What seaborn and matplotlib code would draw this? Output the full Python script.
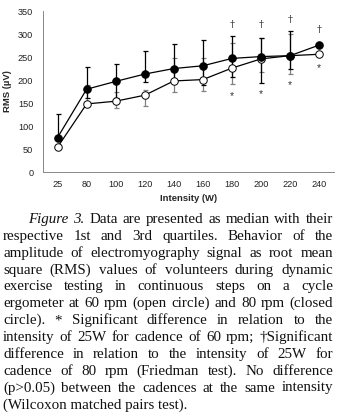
# RMS amplitude vs. intensity at two cadences, with figure caption below
import matplotlib
matplotlib.use('Agg')
import matplotlib.pyplot as plt
import numpy as np
import pandas as pd
import seaborn as sns

# Data (medians with 1st/3rd quartiles)
intensity = ['25', '80', '100', '120', '140', '160', '180', '200', '220', '240']
rpm80_med = [75, 180, 197, 213, 225, 231, 247, 251, 253, 276]
rpm80_q1 = [75, 160, 160, 196, 200, 190, 207, 194, 223, 276]
rpm80_q3 = [126, 229, 235, 263, 278, 287, 296, 292, 307, 276]
rpm60_med = [54, 148, 154, 167, 198, 201, 226, 246, 253, 256]
rpm60_q1 = [54, 148, 140, 143, 173, 177, 191, 218, 214, 256]
rpm60_q3 = [54, 190, 175, 178, 248, 248, 280, 291, 300, 256]

# significance marks
dagger_x = ['180', '200', '220', '240']
dagger_y = [320, 320, 332, 309]
star_x = ['180', '200', '220', '240']
star_y = [165, 170, 189, 225]

caption_lines = [
    'Data are presented as median with their',
    'respective 1st and 3rd quartiles. Behavior of the',
    'amplitude of electromyography signal as root mean',
    'square (RMS) values of volunteers during dynamic',
    'exercise testing in continuous steps on a cycle',
    'ergometer at 60 rpm (open circle) and 80 rpm (closed',
    'circle). * Significant difference in relation to the',
    'intensity of 25W for cadence of 60 rpm; \u2020Significant',
    'difference in relation to the intensity of 25W for',
    'cadence of 80 rpm (Friedman test). No difference',
    '(p>0.05) between the cadences at the same intensity',
    '(Wilcoxon matched pairs test).',
]

sns.set_style('white')
plt.rcParams['font.family'] = ['Liberation Sans', 'DejaVu Sans']

df = pd.DataFrame({
    'intensity': intensity * 2,
    'rms': rpm60_med + rpm80_med,
    'cadence': ['60 rpm'] * len(intensity) + ['80 rpm'] * len(intensity),
})

fig = plt.figure(figsize=(3.4, 4.17), dpi=100)
ax = fig.add_axes([0.1265, 0.5875, 0.855, 0.386])

# error bars first so markers sit on top
ax.errorbar(intensity, rpm60_med,
            yerr=[np.subtract(rpm60_med, rpm60_q1), np.subtract(rpm60_q3, rpm60_med)],
            fmt='none', ecolor='#808080', elinewidth=0.9, capsize=1.8, capthick=0.9, zorder=1)
ax.errorbar(intensity, rpm80_med,
            yerr=[np.subtract(rpm80_med, rpm80_q1), np.subtract(rpm80_q3, rpm80_med)],
            fmt='none', ecolor='black', elinewidth=0.9, capsize=1.8, capthick=0.9, zorder=2)

sns.lineplot(data=df[df.cadence == '60 rpm'], x='intensity', y='rms', sort=False,
             color='black', lw=0.9, marker='o', markersize=5.4,
             markerfacecolor='white', markeredgecolor='black', markeredgewidth=0.7,
             ax=ax, zorder=3)
sns.lineplot(data=df[df.cadence == '80 rpm'], x='intensity', y='rms', sort=False,
             color='black', lw=0.9, marker='o', markersize=5.4,
             markerfacecolor='black', markeredgecolor='black',
             ax=ax, zorder=4)

for xv, yv in zip(dagger_x, dagger_y):
    ax.text(xv, yv, '\u2020', ha='center', va='center', fontsize=7, color='#333333',
            family=['DejaVu Serif'])
for xv, yv in zip(star_x, star_y):
    ax.text(xv, yv, '*', ha='center', va='center', fontsize=7.5, color='#333333')

ax.set_xlim(-0.5, len(intensity) - 0.5)
ax.set_ylim(0, 350)
ax.set_yticks(range(0, 351, 50))
ax.set_xticks(np.arange(-0.5, len(intensity)), minor=False)
ax.set_xticklabels([])
ax.set_xticks(range(len(intensity)), minor=True)
ax.set_xticklabels(intensity, minor=True)
ax.tick_params(axis='x', which='major', length=3, width=0.6, color='#888888', direction='out')
ax.tick_params(axis='x', which='minor', length=0, labelsize=6.6, pad=6, labelcolor='#222222')
ax.tick_params(axis='y', length=3, width=0.6, color='#888888', direction='out',
               labelsize=6.6, pad=4, labelcolor='#222222')
ax.set_xlabel('Intensity (W)', fontsize=6.8, fontweight='bold', labelpad=3)
ax.set_ylabel('RMS (\u00b5V)', fontsize=6.8, fontweight='bold', labelpad=4)
for side in ['top', 'right']:
    ax.spines[side].set_visible(False)
for side in ['left', 'bottom']:
    ax.spines[side].set_color('#888888')
    ax.spines[side].set_linewidth(0.7)
ax.grid(False)

# justified caption, word by word
renderer = fig.canvas.get_renderer()
W, H = fig.get_size_inches() * fig.dpi
left_px, right_px = 3, 333
first_indent = 25
top_base = 223
line_gap = 16.85
cap_font = dict(fontsize=10.8, family=['Liberation Serif', 'DejaVu Serif'], color='#111111')

# width of one space, measured once
t1 = fig.text(0, 0, 'a b', **cap_font)
t2 = fig.text(0, 0, 'ab', **cap_font)
space = t1.get_window_extent(renderer).width - t2.get_window_extent(renderer).width
t1.remove()
t2.remove()

for i, line in enumerate(caption_lines):
    words = line.split(' ')
    styles = ['normal'] * len(words)
    x0 = left_px
    if i == 0:
        words = ['Figure', '3.'] + words
        styles = ['italic', 'italic'] + styles
        x0 = left_px + first_indent
    y = 1 - (top_base + i * line_gap) / H
    if i == len(caption_lines) - 1:
        fig.text(x0 / W, y, line, ha='left', va='baseline', **cap_font)
        continue
    arts = [fig.text(0, y, w, ha='left', va='baseline', style=st, **cap_font)
            for w, st in zip(words, styles)]
    widths = [a.get_window_extent(renderer).width for a in arts]
    gap = max((right_px - x0 - sum(widths)) / (len(words) - 1), 0.6 * space)
    xp = x0
    for a, wd in zip(arts, widths):
        a.set_x(xp / W)
        xp += wd + gap

fig.savefig('out.png', dpi=100)
